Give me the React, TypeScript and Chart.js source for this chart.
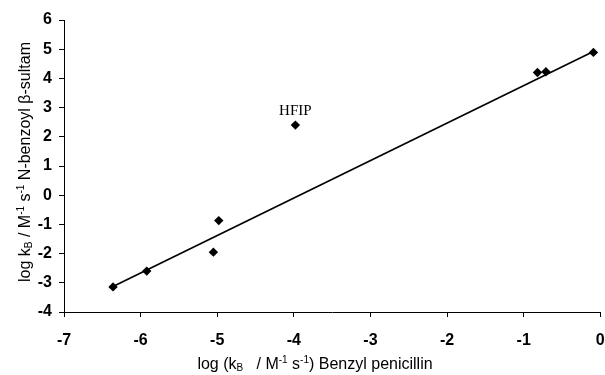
import React, { useEffect, useRef } from "react";
import { Chart, registerables } from "chart.js";

Chart.register(...registerables);

const pointX = [-6.36, -5.92, -5.05, -4.98, -3.98, -0.82, -0.71, -0.09];
const pointY = [-3.14, -2.6, -1.95, -0.87, 2.4, 4.2, 4.23, 4.89];
const fitX = [-6.36, -0.09];
const fitY = [-3.13, 4.92];
const labelText = "HFIP";
const labelIndex = 4;
const xTickMin = -7;
const xTickMax = 0;
const yTickMin = -4;
const yTickMax = 6;

const SANS = '"Liberation Sans", Arial, sans-serif';

type Piece = { t: string; kind: "n" | "sub" | "sup" };

const xTitle: Piece[] = [
  { t: "log (k", kind: "n" },
  { t: "B", kind: "sub" },
  { t: "   / M", kind: "n" },
  { t: "-1", kind: "sup" },
  { t: " s", kind: "n" },
  { t: "-1", kind: "sup" },
  { t: ") Benzyl penicillin", kind: "n" },
];
const yTitle: Piece[] = [
  { t: "log k", kind: "n" },
  { t: "B", kind: "sub" },
  { t: " / M", kind: "n" },
  { t: "-1", kind: "sup" },
  { t: " s", kind: "n" },
  { t: "-1", kind: "sup" },
  { t: " N-benzoyl β-sultam", kind: "n" },
];

function drawRich(ctx: CanvasRenderingContext2D, pieces: Piece[], size: number) {
  const small = Math.round(size * 0.62);
  const fontN = `${size}px ${SANS}`;
  const fontS = `${small}px ${SANS}`;
  let total = 0;
  for (const p of pieces) {
    ctx.font = p.kind === "n" ? fontN : fontS;
    total += ctx.measureText(p.t).width;
  }
  let x = -total / 2;
  ctx.textAlign = "left";
  ctx.textBaseline = "alphabetic";
  for (const p of pieces) {
    ctx.font = p.kind === "n" ? fontN : fontS;
    const dy = p.kind === "sub" ? 2 : p.kind === "sup" ? -6 : 0;
    ctx.fillText(p.t, x, size * 0.36 + dy);
    x += ctx.measureText(p.t).width;
  }
}

const annotPlugin = {
  id: "annot",
  afterDraw(chart: any) {
    const ctx = chart.ctx as CanvasRenderingContext2D;
    const xs = chart.scales.x;
    const ys = chart.scales.y;
    ctx.save();
    ctx.fillStyle = "#000";
    const px = xs.getPixelForValue(pointX[labelIndex]);
    const py = ys.getPixelForValue(pointY[labelIndex]);
    ctx.font = `15px "Liberation Serif", "Times New Roman", serif`;
    ctx.textAlign = "center";
    ctx.textBaseline = "alphabetic";
    ctx.fillText(labelText, px, py - 10);
    ctx.save();
    ctx.translate(315, 363);
    drawRich(ctx, xTitle, 16);
    ctx.restore();
    ctx.save();
    ctx.translate(24, 162);
    ctx.rotate(-Math.PI / 2);
    drawRich(ctx, yTitle, 16);
    ctx.restore();
    ctx.restore();
  },
};

export default function App() {
  const ref = useRef<HTMLCanvasElement | null>(null);
  useEffect(() => {
    if (!ref.current) return;
    const tickFont = { family: SANS, size: 16, weight: "bold" as const };
    const chart = new Chart(ref.current, {
      type: "scatter",
      data: {
        datasets: [
          {
            type: "line",
            data: fitX.map((x, i) => ({ x, y: fitY[i] })),
            borderColor: "#000",
            borderWidth: 1.7,
            pointRadius: 0,
            fill: false,
            order: 2,
          } as any,
          {
            data: pointX.map((x, i) => ({ x, y: pointY[i] })),
            pointStyle: "rectRot",
            pointRadius: 4.7,
            backgroundColor: "#000",
            borderColor: "#000",
            borderWidth: 0,
            order: 1,
          },
        ],
      },
      options: {
        animation: false,
        responsive: false,
        maintainAspectRatio: false,
        layout: { padding: { left: 0, right: 4, top: 20, bottom: 0 } },
        plugins: { legend: { display: false }, tooltip: { enabled: false } },
        scales: {
          x: {
            type: "linear",
            min: xTickMin,
            max: xTickMax,
            ticks: { stepSize: 1, color: "#000", font: tickFont, padding: 14 },
            grid: { drawOnChartArea: false, drawTicks: true, tickLength: 5, color: "#000" },
            border: { color: "#000", width: 1 },
            afterFit: (s: any) => {
              s.height = 63;
              s.paddingLeft = 0;
              s.paddingRight = 0;
            },
          },
          y: {
            type: "linear",
            min: yTickMin,
            max: yTickMax,
            ticks: { stepSize: 1, color: "#000", font: tickFont, padding: 7 },
            grid: { drawOnChartArea: false, drawTicks: true, tickLength: 5, color: "#000" },
            border: { color: "#000", width: 1 },
            afterFit: (s: any) => {
              s.width = 64;
              s.paddingTop = 0;
              s.paddingBottom = 0;
            },
          },
        },
      },
      plugins: [annotPlugin],
    });
    return () => chart.destroy();
  }, []);
  return (
    <div style={{ position: "fixed", left: 0, top: 0, width: 605, height: 375, background: "#fff" }}>
      <canvas ref={ref} width={605} height={375} style={{ width: 605, height: 375 }} />
    </div>
  );
}
